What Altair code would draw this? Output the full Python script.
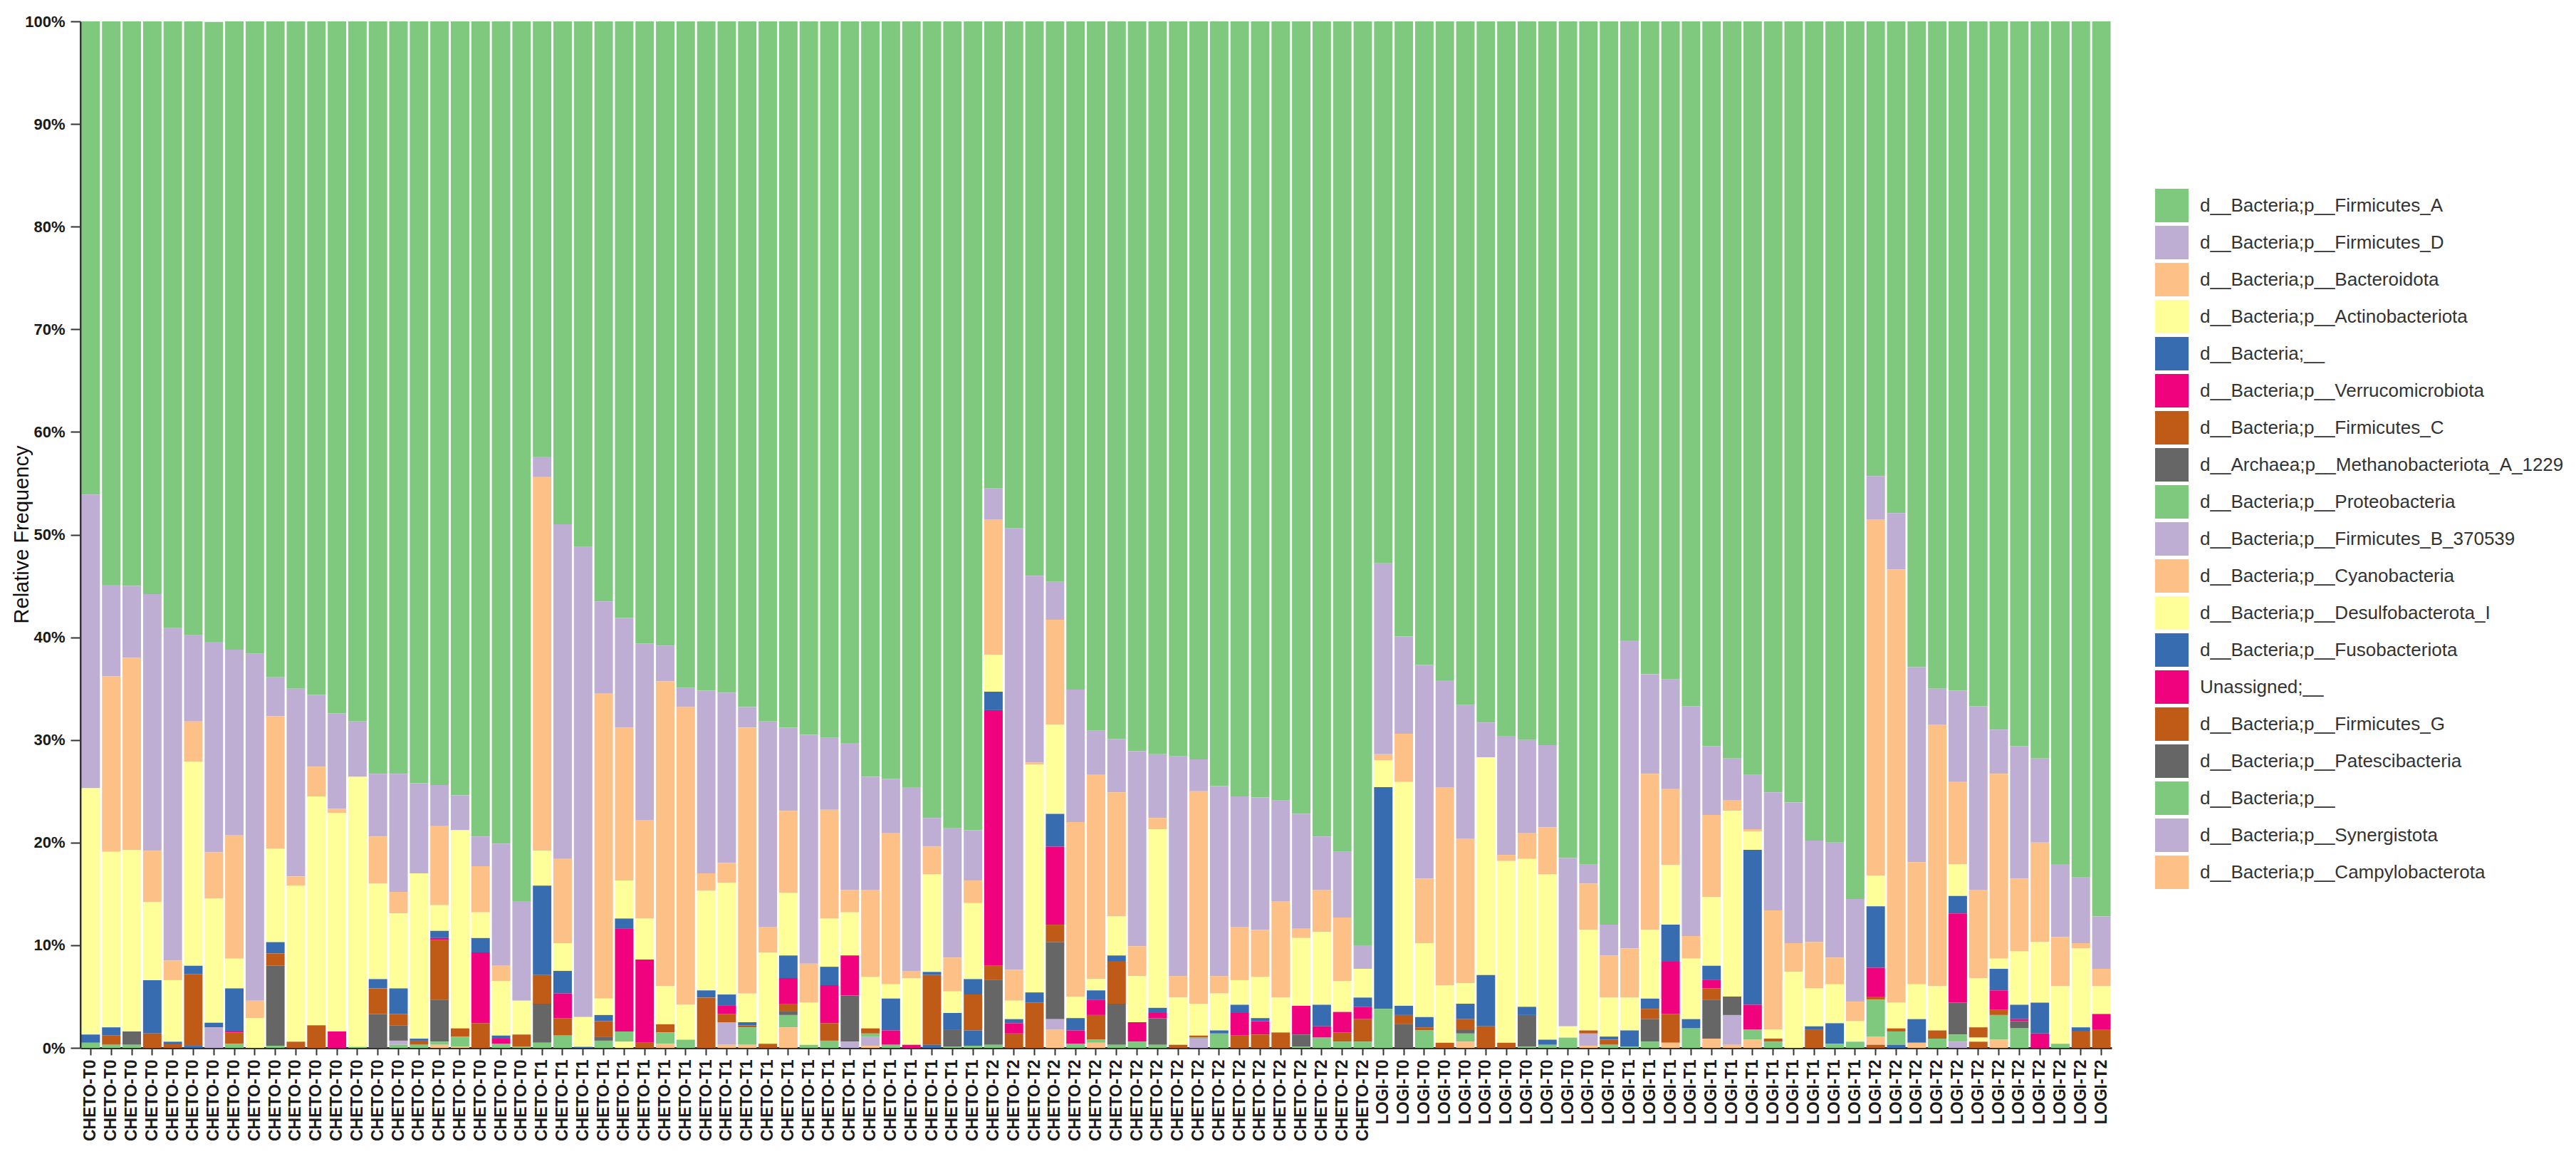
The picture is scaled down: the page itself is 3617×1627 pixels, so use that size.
import altair as alt
import pandas as pd

# ---------------- data ----------------
group_names = ["CHETO-T0", "CHETO-T1", "CHETO-T2", "LOGI-T0", "LOGI-T1", "LOGI-T2"]
group_sizes = [22, 22, 19, 12, 12, 12]

taxa = [
    "d__Bacteria;p__Firmicutes_A",
    "d__Bacteria;p__Firmicutes_D",
    "d__Bacteria;p__Bacteroidota",
    "d__Bacteria;p__Actinobacteriota",
    "d__Bacteria;__",
    "d__Bacteria;p__Verrucomicrobiota",
    "d__Bacteria;p__Firmicutes_C",
    "d__Archaea;p__Methanobacteriota_A_1229",
    "d__Bacteria;p__Proteobacteria",
    "d__Bacteria;p__Firmicutes_B_370539",
    "d__Bacteria;p__Cyanobacteria",
    "d__Bacteria;p__Desulfobacterota_I",
    "d__Bacteria;p__Fusobacteriota",
    "Unassigned;__",
    "d__Bacteria;p__Firmicutes_G",
    "d__Bacteria;p__Patescibacteria",
    "d__Bacteria;p__",
    "d__Bacteria;p__Synergistota",
    "d__Bacteria;p__Campylobacterota",
]

accent = ["#7fc97f", "#beaed4", "#fdc086", "#ffff99",
          "#386cb0", "#f0027f", "#bf5b17", "#666666"]

firmicutes_A = [
    46.1, 54.9, 55.0, 55.8, 59.1, 59.8, 60.4, 61.2, 61.6, 63.9, 65.0,
    65.6, 67.4, 68.2, 73.3, 73.3, 74.2, 74.4, 75.4, 79.4, 80.1, 85.7,
    42.4, 49.0, 51.2, 56.5, 58.1, 60.6, 60.8, 64.9, 65.2, 65.4, 66.8,
    68.2, 68.8, 69.5, 69.8, 70.3, 73.6, 73.8, 74.6, 77.6, 78.6, 78.8,
    45.5, 49.4, 54.0, 54.6, 65.1, 69.1, 69.9, 71.1, 71.4, 71.6, 71.9,
    74.5, 75.5, 75.6, 75.9, 77.2, 79.4, 80.9, 90.0, 52.8, 59.9, 62.7,
    64.2, 66.6, 68.3, 69.6, 70.0, 70.5, 81.5, 82.1, 88.0, 60.3, 63.6,
    64.1, 66.7, 70.6, 71.8, 73.4, 75.1, 76.1, 79.8, 80.0, 85.5, 44.3,
    47.9, 62.9, 65.0, 65.2, 66.7, 69.0, 70.6, 71.8, 82.1, 83.4, 87.2,
]
firmicutes_D = [
    28.6, 8.9, 7.0, 25.0, 32.4, 8.4, 20.5, 18.1, 33.8, 3.8, 18.3,
    7.0, 9.3, 5.4, 6.1, 11.5, 8.8, 4.0, 3.4, 2.9, 11.9, 9.7,
    2.0, 32.6, 45.8, 9.0, 10.7, 17.2, 3.5, 1.9, 17.8, 16.6, 2.0,
    20.0, 8.1, 22.3, 7.0, 14.3, 11.0, 5.3, 17.9, 2.8, 12.6, 4.9,
    3.0, 43.0, 18.2, 3.7, 12.9, 4.3, 5.2, 19.0, 6.2, 21.4, 3.1,
    18.5, 12.7, 12.9, 9.8, 11.2, 5.2, 6.4, 2.3, 18.6, 9.5, 20.8,
    10.4, 13.0, 3.4, 11.6, 9.1, 8.0, 16.4, 1.9, 3.0, 30.0, 9.7,
    10.7, 22.4, 6.7, 4.1, 5.3, 11.5, 13.7, 9.9, 11.2, 10.0, 4.2,
    5.5, 19.0, 3.5, 8.9, 17.9, 4.3, 12.9, 8.2, 7.1, 6.4, 5.1,
]
bacteroidota = [
    0, 17.1, 18.7, 5.0, 1.9, 3.9, 4.5, 12.0, 1.7, 12.9, 0.9,
    2.9, 0.4, 0, 4.6, 2.1, 0, 7.7, 0, 4.5, 1.5, 0,
    36.4, 8.2, 0, 29.7, 14.9, 9.6, 29.7, 29.0, 1.7, 1.9, 25.9,
    2.5, 8.0, 3.8, 10.6, 2.2, 8.5, 14.7, 0.7, 2.7, 3.3, 2.2,
    13.2, 3.0, 0.2, 10.2, 17.0, 19.9, 12.1, 2.9, 1.1, 2.1, 20.7,
    1.7, 5.2, 4.6, 9.4, 0.9, 4.1, 6.2, 0, 0.6, 4.7, 6.3,
    19.3, 14.1, 0, 0.6, 2.5, 4.6, 0, 4.5, 4.1, 4.8, 15.2,
    7.4, 2.2, 8.0, 1.0, 0.2, 11.6, 2.8, 4.5, 2.6, 1.9, 34.7,
    42.2, 11.9, 25.5, 8.0, 8.6, 18.0, 7.1, 9.7, 4.8, 0.5, 1.7,
]
actinobacteriota = [
    24.0, 17.1, 17.7, 7.6, 6.0, 19.9, 12.1, 2.9, 2.9, 9.1, 15.2,
    22.3, 21.3, 26.3, 9.3, 7.3, 16.1, 2.5, 19.3, 2.5, 5.3, 3.3,
    3.4, 2.7, 2.9, 1.6, 3.7, 4.0, 3.7, 3.4, 9.7, 10.9, 2.8,
    8.9, 6.1, 4.1, 4.7, 4.2, 5.0, 1.4, 6.5, 9.5, 2.1, 7.4,
    3.6, 1.8, 22.2, 8.7, 2.1, 1.1, 3.8, 4.5, 17.4, 4.6, 3.1,
    3.6, 2.4, 4.0, 3.4, 6.6, 7.1, 3.0, 2.8, 2.6, 21.8, 7.2,
    5.6, 2.0, 21.2, 17.7, 14.4, 16.1, 1.1, 9.8, 3.8, 3.2, 6.7,
    5.8, 5.9, 6.7, 18.1, 1.8, 0.9, 7.4, 3.7, 3.8, 2.0, 3.0,
    2.5, 3.4, 4.3, 3.1, 4.8, 1.0, 5.2, 5.9, 5.6, 7.7, 2.7,
]
bacteria_unassigned = [
    0.8, 0.8, 0, 5.2, 0.25, 0.8, 0.45, 4.2, 0, 1.1, 0,
    0, 0, 0, 0.9, 2.5, 0.2, 0.7, 0, 1.4, 0.3, 0,
    8.7, 2.2, 0, 0.6, 1.0, 0, 0, 0, 0.7, 1.1, 0.3,
    0, 2.2, 0, 1.8, 0, 0, 3.1, 0, 0.3, 1.6, 1.5,
    1.8, 0.4, 1.0, 3.2, 1.2, 0.9, 0.6, 0, 0.5, 0, 0,
    0.3, 0.8, 0.3, 0, 0, 2.1, 0, 0.9, 21.6, 0.9, 1.0,
    0, 1.5, 5.0, 0, 0.8, 0.5, 0, 0, 0.3, 1.6, 1.0,
    3.6, 0.9, 1.4, 0, 15.1, 0, 0, 0.3, 2.0, 0, 6.0,
    0, 2.3, 0, 1.7, 0, 2.1, 1.4, 3.0, 0, 0.4, 0,
]
verrucomicrobiota = [
    0, 0, 0, 0, 0, 0, 0, 0.1, 0, 0, 0,
    0, 1.6, 0, 0, 0, 0, 0.2, 0, 6.9, 0.5, 0,
    0, 2.4, 0, 0, 10.0, 8.1, 0, 0, 0, 0.8, 0,
    0, 2.5, 0, 3.7, 3.9, 0, 1.4, 0.3, 0, 0, 0,
    24.9, 1.0, 0, 7.6, 1.3, 1.5, 0, 1.9, 0.5, 0, 0,
    0, 2.2, 1.3, 0, 2.8, 1.1, 2.0, 1.2, 0, 0, 0,
    0, 0, 0, 0, 0, 0, 0, 0, 0, 0, 0,
    5.1, 0, 0.8, 0, 2.4, 0, 0, 0, 0, 0, 2.8,
    0, 0, 0, 8.7, 0, 1.9, 0.2, 1.4, 0, 0, 1.5,
]
firmicutes_C = [
    0, 0.9, 0, 1.4, 0.35, 7.0, 0, 1.1, 0, 1.2, 0.6,
    2.2, 0, 0, 2.5, 1.1, 0.4, 5.8, 0.8, 2.4, 0, 1.2,
    2.8, 1.7, 0, 1.5, 0, 0.5, 0.8, 0, 4.9, 0.8, 0.2,
    0.4, 0.7, 0, 1.7, 0, 0.5, 0, 0, 6.8, 0, 3.5,
    1.4, 1.4, 4.4, 1.7, 0, 2.4, 4.1, 0, 0, 0.3, 0.2,
    0, 1.2, 1.3, 1.5, 0, 0, 0.9, 2.2, 0, 0.9, 0.3,
    0.5, 1.0, 2.1, 0.5, 0, 0, 0, 0.3, 0.5, 0, 1.0,
    2.8, 0, 1.1, 0, 0, 0.3, 0, 1.8, 0, 0, 0.3,
    0.3, 0, 0.8, 0, 1.0, 0.5, 0, 0, 0, 1.6, 1.8,
]
methanobacteriota = [
    0, 0, 1.3, 0, 0, 0, 0, 0, 0, 7.8, 0,
    0, 0, 0, 3.3, 1.5, 0, 4.1, 0, 0, 0, 0,
    3.8, 0, 0, 0.4, 0, 0, 0, 0, 0, 0, 0,
    0, 0.4, 0, 0, 4.5, 0, 0, 0, 0, 1.7, 0,
    6.3, 0, 0, 7.5, 0, 0, 4.0, 0, 2.6, 0, 0,
    0, 0, 0, 0, 1.2, 0, 0, 0, 0, 2.3, 0,
    0, 0.4, 0, 0, 3.1, 0, 0, 0, 0, 0, 2.2,
    0, 0, 3.8, 1.8, 0, 0, 0, 0, 0, 0, 0,
    0, 0, 0, 3.1, 0, 0, 0.7, 0, 0, 0, 0,
]
proteobacteria = [
    0.5, 0.3, 0.3, 0, 0, 0, 0, 0.4, 0, 0.2, 0,
    0, 0, 0.1, 0, 0, 0.3, 0.3, 1.0, 0, 0.4, 0.1,
    0.5, 1.2, 0, 0.7, 1.0, 0, 1.1, 0.8, 0, 0, 1.7,
    0, 1.2, 0.3, 0.7, 0, 0.3, 0.3, 0, 0, 0.1, 0,
    0.3, 0, 0, 0, 0.4, 0.3, 0.3, 0.6, 0.3, 0, 0.1,
    1.4, 0, 0, 0, 0.1, 1.0, 0.6, 0.6, 3.8, 0, 1.7,
    0, 0.8, 0, 0, 0.1, 0.3, 1.0, 0, 0.3, 0.1, 0.6,
    0, 1.9, 0, 0, 1.0, 0.6, 0, 0, 0.4, 0.6, 3.6,
    1.3, 0, 0.9, 0.7, 0, 2.4, 1.9, 0, 0.4, 0, 0,
]
# minor phyla: {sample number (1-based): relative frequency %}
firmicutes_B = {7: 2.0, 16: 0.4, 32: 2.2, 38: 0.6, 39: 0.9, 48: 1.0, 55: 0.9,
                74: 1.2, 81: 2.9, 92: 0.6}
cyanobacteria = {18: 0.3, 19: 0.1, 29: 0.4, 32: 0.3, 33: 0.3, 35: 2.0, 39: 0.2,
                 48: 1.8, 50: 0.5, 68: 0.6, 74: 0.2, 78: 0.5, 80: 0.9, 81: 0.3,
                 82: 0.8, 88: 0.8, 90: 0.5, 94: 0.8}
desulfobacterota = {27: 0.6, 93: 0.4}
fusobacteriota = {6: 0.2, 25: 0.1, 42: 0.3, 44: 1.5, 89: 0.3}
unassigned = {}
firmicutes_G = {88: 0.3, 93: 0.6}
patescibacteria = {}
bacteria_p = {16: 0.3, 44: 0.2}
synergistota = {}
campylobacterota = {}

# ---------------- table ----------------
samples = []
for g, n in zip(group_names, group_sizes):
    for _ in range(n):
        samples.append(f"{g}|{len(samples) + 1}")
n_samples = len(samples)

series = [firmicutes_A, firmicutes_D, bacteroidota, actinobacteriota,
          bacteria_unassigned, verrucomicrobiota, firmicutes_C,
          methanobacteriota, proteobacteria, firmicutes_B, cyanobacteria,
          desulfobacterota, fusobacteriota, unassigned, firmicutes_G,
          patescibacteria, bacteria_p, synergistota, campylobacterota]

rows = []
for t_i, (taxon, s) in enumerate(zip(taxa, series)):
    if isinstance(s, dict):
        vals = [s.get(j + 1, 0) for j in range(n_samples)]
    else:
        vals = s
    for j, v in enumerate(vals):
        if v > 0:
            rows.append({"sample": samples[j], "taxon": taxon, "idx": t_i, "value": v})
df = pd.DataFrame(rows)

colors = [accent[i % len(accent)] for i in range(len(taxa))]
FONT = "Liberation Sans"

chart = alt.Chart(df).mark_bar().encode(
    x=alt.X(
        "sample:N",
        sort=samples,
        scale=alt.Scale(paddingInner=0.1, paddingOuter=0.05),
        axis=alt.Axis(
            title=None,
            labelExpr="split(datum.label, '|')[0]",
            labelAngle=270,
            labelFontSize=23,
            labelFont=FONT,
            labelFontWeight="bold",
            labelColor="#1a1a1a",
            labelOverlap=False,
            labelPadding=6,
            tickSize=10,
            tickWidth=2,
            tickColor="#333333",
            domainColor="#333333",
            domainWidth=3,
        ),
    ),
    y=alt.Y(
        "value:Q",
        stack="zero",
        scale=alt.Scale(domain=[0, 100], nice=False),
        axis=alt.Axis(
            title="Relative Frequency",
            values=list(range(0, 101, 10)),
            labelExpr="datum.value + '%'",
            grid=False,
            labelFontSize=22,
            labelFont=FONT,
            labelFontWeight="bold",
            labelColor="#1a1a1a",
            labelPadding=8,
            tickSize=14,
            tickWidth=2,
            tickColor="#333333",
            domainColor="#333333",
            domainWidth=3,
            titleFont=FONT,
            titleFontSize=29,
            titleFontWeight="normal",
            titleColor="#111111",
            titleAngle=270,
            titleX=-83,
            titleY=720,
            titleAlign="center",
            titleBaseline="middle",
        ),
    ),
    color=alt.Color(
        "taxon:N",
        scale=alt.Scale(domain=taxa, range=colors),
        legend=alt.Legend(
            title=None,
            orient="none",
            legendX=2913,
            legendY=235,
            padding=0,
            symbolType="square",
            symbolSize=2209,
            symbolStrokeWidth=0,
            symbolOpacity=1,
            symbolOffset=0,
            labelFontSize=26,
            labelFont=FONT,
            labelColor="#333333",
            labelLimit=900,
            labelOffset=16,
            rowPadding=5,
        ),
    ),
    order=alt.Order("idx:Q", sort="descending"),
).properties(
    width=2852,
    height=1441,
    autosize=alt.AutoSizeParams(type="none"),
    padding={"left": 105, "top": 22, "right": 643, "bottom": 150},
).configure_view(strokeWidth=0)

chart.save("out.html", embed_options={"renderer": "svg", "actions": False})
